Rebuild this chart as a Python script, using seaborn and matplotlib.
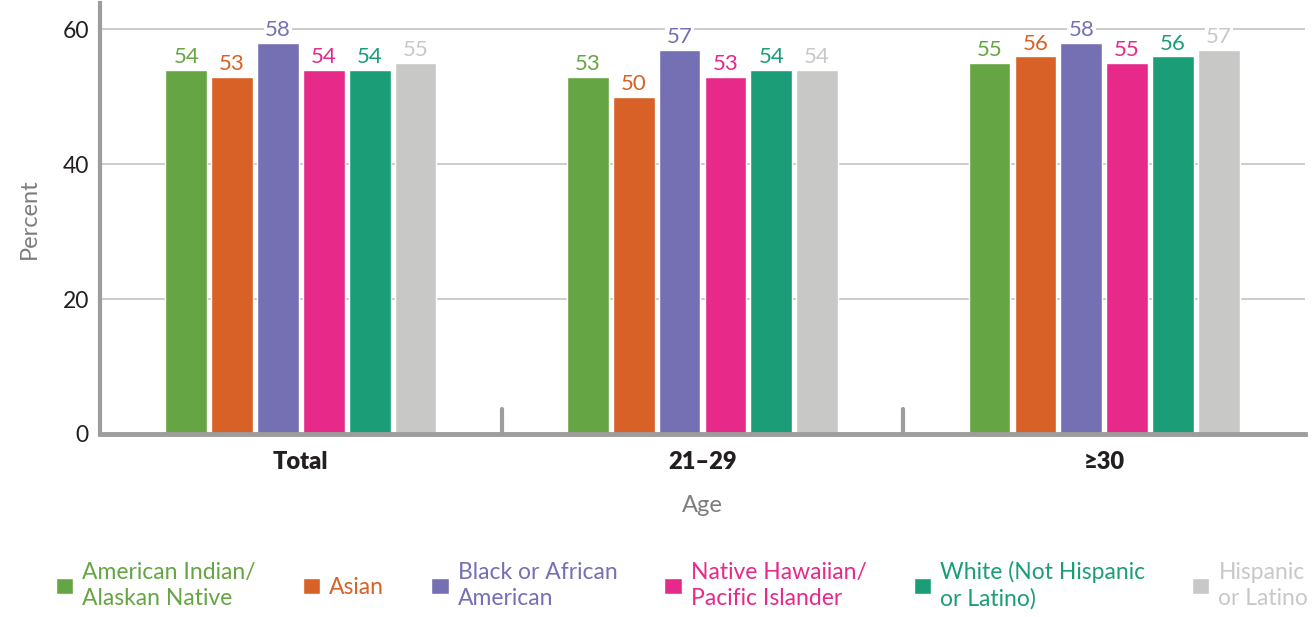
import pandas as pd
import matplotlib.pyplot as plt
import seaborn as sns

# --- Data ---
ages = ["Total", "21\u201329", "\u226530"]
groups = ["American Indian/\nAlaskan Native", "Asian", "Black or African\nAmerican",
          "Native Hawaiian/\nPacific Islander", "White (Not Hispanic\nor Latino)",
          "Hispanic\nor Latino"]
american_indian = [54, 53, 55]
asian = [53, 50, 56]
black = [58, 57, 58]
hawaiian = [54, 53, 55]
white = [54, 54, 56]
hispanic = [55, 54, 57]
colors = ["#65a543", "#d86127", "#7570b3", "#e7298a", "#1b9e77", "#c8c8c7"]

series = [american_indian, asian, black, hawaiian, white, hispanic]
rows = []
for g, vals in zip(groups, series):
    for a, v in zip(ages, vals):
        rows.append({"age": a, "group": g, "percent": v})
df = pd.DataFrame(rows)

sns.set_style("white")
plt.rcParams['font.family'] = ['Lato', 'DejaVu Sans']

fig = plt.figure(figsize=(13.13, 6.17), dpi=100)
ax = fig.add_axes([0.0762, 0.2966, 0.9177, 0.6984])

sns.barplot(data=df, x="age", y="percent", hue="group", order=ages, hue_order=groups,
            palette=colors, width=0.685, gap=0.09, saturation=1, ax=ax, legend=True)

ax.set_xlim(-0.5, 2.5)
ax.set_ylim(0, 63.9)
ax.set_yticks([0, 20, 40, 60])
ax.yaxis.grid(True, color="#c8c8c8", linewidth=1.3)
ax.set_axisbelow(True)

# value labels
for cont, c in zip(ax.containers, colors):
    texts = ax.bar_label(cont, padding=2, color=c, fontsize=16)
    for t in texts:
        t.set_bbox(dict(facecolor="white", edgecolor="none", pad=1))

for s in ["top", "right"]:
    ax.spines[s].set_visible(False)
ax.spines["left"].set_color("#9d9d9c")
ax.spines["left"].set_linewidth(3)
ax.spines["bottom"].set_color("#9d9d9c")
ax.spines["bottom"].set_linewidth(3.5)

ax.tick_params(axis="y", length=0, labelsize=16.5, labelcolor="#231f20", pad=8)
ax.tick_params(axis="x", length=0, labelsize=17, labelcolor="#231f20", pad=12)
for lbl in ax.get_xticklabels():
    lbl.set_fontweight("heavy")

# separators between age groups
for sep in [0.5, 1.5]:
    ax.axvline(sep, ymin=0, ymax=0.058, color="#9d9d9c", linewidth=3)

ax.set_xlabel("Age", fontsize=17, color="#7d7d7d", labelpad=16)
ax.set_ylabel("Percent", fontsize=17, color="#7d7d7d", labelpad=16)

# legend
handles, labels = ax.get_legend_handles_labels()
ax.get_legend().remove()
leg = fig.legend(handles, labels, ncol=6, loc="lower left", bbox_to_anchor=(0.027, -0.022),
                 frameon=False, fontsize=16.5, labelcolor=colors, handlelength=0.75,
                 handleheight=0.75, handletextpad=0.4, columnspacing=2.05)
for t in leg.get_texts():
    t.set_linespacing(1.3)

plt.savefig("out.png", dpi=100)
